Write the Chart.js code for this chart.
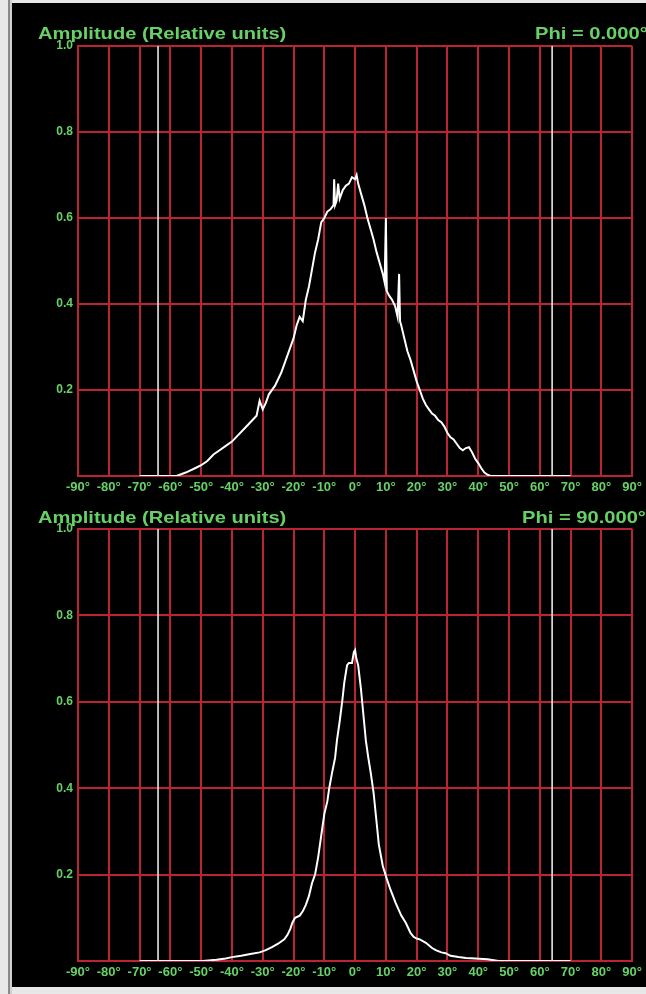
<!DOCTYPE html>
<html>
<head>
<meta charset="utf-8">
<script src="https://cdn.jsdelivr.net/npm/chart.js@4.4.0/dist/chart.umd.min.js"></script>
<style>
  html, body { margin: 0; padding: 0; }
  body { width: 646px; height: 994px; background: #e8e8e8; position: relative; overflow: hidden; font-family: "Liberation Sans", Arial, sans-serif; }
  .edge-dark { position: absolute; left: 8px; top: 0; width: 2px; height: 994px; background: #8a8a8a; }
  .edge-mid { position: absolute; left: 10px; top: 0; width: 2px; height: 994px; background: #cfcfcf; }
  .screen { position: absolute; left: 12px; top: 3px; width: 634px; height: 984px; background: #000; overflow: hidden; }
  .screen canvas { position: absolute; left: 0; }
  .hdr { position: absolute; color: #66d266; font-weight: bold; font-size: 16.5px; line-height: 18px; white-space: nowrap;
         transform: scaleX(1.22); transform-origin: left center; }
</style>
</head>
<body>
<div class="edge-dark"></div>
<div class="edge-mid"></div>
<div class="screen">
  <canvas id="topChart" width="634" height="497" style="top:0"></canvas>
  <canvas id="bottomChart" width="634" height="487" style="top:497px"></canvas>
  <div class="hdr" style="left:26px; top:21px">Amplitude (Relative units)</div>
  <div class="hdr" style="left:523px; top:21px">Phi = 0.000°</div>
  <div class="hdr" style="left:26px; top:505px">Amplitude (Relative units)</div>
  <div class="hdr" style="left:510px; top:505px">Phi = 90.000°</div>
</div>

<script>
// -------- Data --------
const markerAngles = [-64, 64];

// Phi = 0 cut
const topAngles = [-70, -58, -55, -52, -50, -48, -46, -44, -42, -40, -38, -36, -34, -32, -31, -30, -29, -28,
  -26, -24, -22, -20, -19, -18, -17, -16, -15, -14, -13, -12, -11, -10, -9, -8, -7, -6.8, -6.5, -6, -5.5, -5,
  -4, -3, -2, -1, 0, 0.5, 1, 2, 3, 4, 5, 6, 7, 8, 9, 9.6, 10, 10.3, 11, 12, 13, 13.8, 14.3, 14.6, 15, 16, 17,
  18, 19, 20, 21, 22, 23, 24, 25, 26, 27, 28, 29, 30, 31, 32, 33, 34, 35, 36, 37, 38, 39, 40, 41, 42, 43, 44, 70];
const topAmplitude = [0, 0, 0.008, 0.018, 0.025, 0.035, 0.05, 0.06, 0.07, 0.08, 0.095, 0.11, 0.125, 0.14, 0.175, 0.155, 0.17, 0.19,
  0.21, 0.24, 0.28, 0.32, 0.35, 0.37, 0.36, 0.41, 0.44, 0.48, 0.52, 0.55, 0.59, 0.6, 0.615, 0.62, 0.63, 0.69, 0.63, 0.64, 0.68, 0.645,
  0.665, 0.675, 0.68, 0.695, 0.69, 0.7, 0.68, 0.655, 0.63, 0.6, 0.575, 0.55, 0.52, 0.495, 0.47, 0.45, 0.6, 0.43, 0.42, 0.41, 0.395, 0.37, 0.47, 0.36, 0.35, 0.32, 0.29,
  0.27, 0.245, 0.22, 0.2, 0.18, 0.165, 0.155, 0.145, 0.14, 0.13, 0.125, 0.115, 0.1, 0.09, 0.085, 0.075, 0.065, 0.06, 0.065, 0.067, 0.055, 0.04, 0.03, 0.018, 0.008, 0.003, 0, 0];

// Phi = 90 cut
const bottomAngles = [-70, -49.5, -45, -42, -40, -37, -34, -31, -29, -27, -25, -23, -22, -21, -20.4, -19.5, -18, -17, -16, -15,
  -14, -13, -12, -11, -10, -9, -8.4, -7.5, -6.5, -5.9, -5, -4.2, -3.5, -2.6, -2, -1, -0.4, 0, 0.4, 1, 1.9, 2.7, 3.5, 4.3,
  5.1, 6, 7, 7.7, 9, 10.3, 11.5, 13.2, 15, 16.5, 18, 19, 20, 21, 23, 25, 26.2, 28, 29.4, 31, 33.6, 36, 39, 43, 46.6, 70];
const bottomAmplitude = [0, 0, 0.003, 0.006, 0.009, 0.012, 0.016, 0.02, 0.025, 0.032, 0.04, 0.05, 0.06, 0.075, 0.088, 0.1, 0.105, 0.115, 0.13, 0.15,
  0.18, 0.2, 0.24, 0.29, 0.34, 0.37, 0.4, 0.435, 0.47, 0.51, 0.555, 0.6, 0.645, 0.685, 0.69, 0.69, 0.715, 0.72, 0.7, 0.685, 0.63, 0.57, 0.51, 0.47,
  0.435, 0.39, 0.32, 0.27, 0.22, 0.19, 0.165, 0.134, 0.105, 0.088, 0.065, 0.056, 0.052, 0.05, 0.042, 0.03, 0.025, 0.02, 0.018, 0.012, 0.009, 0.007, 0.006, 0.004, 0, 0];

const xMin = -90, xMax = 90, xStep = 10;
const yMin = 0, yMax = 1, yStep = 0.2;

// -------- Shared look --------
const GREEN = '#66d266';
const GRID_RED = '#bb2433';

function buildChart(canvasId, angles, amps, pad) {
  const ctx = document.getElementById(canvasId);
  const traces = [{
    data: angles.map((a, i) => ({ x: a, y: amps[i] })),
    borderColor: '#ffffff',
    borderWidth: 2,
    pointRadius: 0,
    tension: 0
  }];
  markerAngles.forEach(m => traces.unshift({
    data: [{ x: m, y: yMin }, { x: m, y: yMax }],
    borderColor: '#e6e6e6',
    borderWidth: 1.6,
    pointRadius: 0
  }));

  return new Chart(ctx, {
    type: 'line',
    data: { datasets: traces },
    options: {
      responsive: false,
      animation: false,
      devicePixelRatio: 1,
      layout: { padding: pad },
      plugins: { legend: { display: false }, tooltip: { enabled: false } },
      scales: {
        x: {
          type: 'linear', min: xMin, max: xMax,
          afterFit: s => { s.height = 24; },
          ticks: {
            stepSize: xStep, autoSkip: false, maxRotation: 0, padding: 4,
            color: GREEN, font: { family: 'Liberation Sans', size: 13, weight: 'bold' },
            callback: v => v + '°'
          },
          grid: { color: GRID_RED, lineWidth: 2, drawTicks: false },
          border: { color: GRID_RED, width: 2 }
        },
        y: {
          min: yMin, max: yMax,
          afterFit: s => { s.width = 66; },
          ticks: {
            stepSize: yStep, padding: 5,
            color: GREEN, font: { family: 'Liberation Sans', size: 12, weight: 'bold' },
            callback: v => v === 0 ? '' : v.toFixed(1)
          },
          grid: { color: GRID_RED, lineWidth: 2, drawTicks: false },
          border: { color: GRID_RED, width: 2 }
        }
      }
    }
  });
}

buildChart('topChart', topAngles, topAmplitude, { top: 43, right: 11, bottom: 0, left: 0 });
buildChart('bottomChart', bottomAngles, bottomAmplitude, { top: 29, right: 11, bottom: 2, left: 0 });
</script>
</body>
</html>
